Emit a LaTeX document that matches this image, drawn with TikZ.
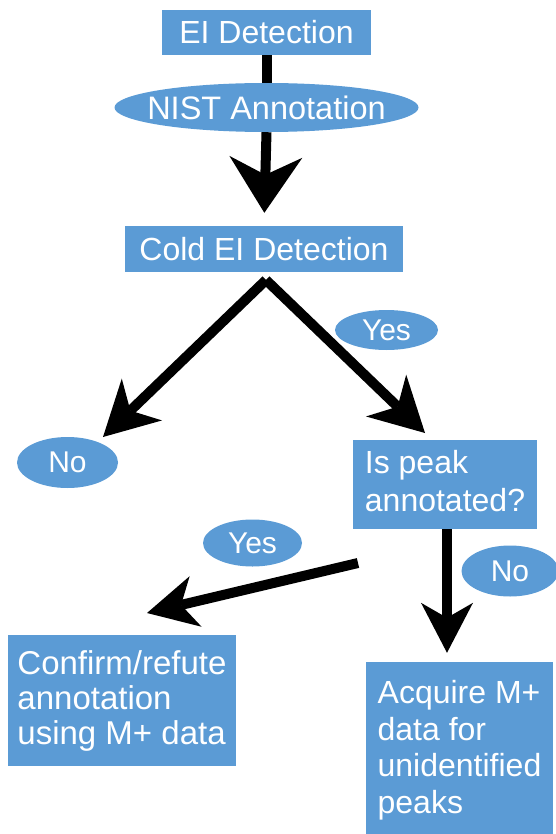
\documentclass[tikz,border=0pt]{standalone}
\usepackage{fontspec}
\setmainfont{Liberation Sans}
\usetikzlibrary{arrows.meta,shapes.geometric}
\definecolor{boxblue}{HTML}{5B9BD5}
\tikzset{
  box/.style={fill=boxblue, draw=none, text=white, inner sep=0pt, align=left,
    font=\fontsize{32}{37}\selectfont},
  oval/.style={ellipse, fill=boxblue, draw=none, text=white, inner sep=0pt,
    font=\fontsize{30}{34}\selectfont},
  shaft/.style={line width=10pt, black},
  bigtip/.style={shaft, -{Stealth[length=56pt,width=73pt,inset=18pt,line width=0pt]}},
  midtip/.style={shaft, -{Stealth[length=54pt,width=58pt,inset=16pt,line width=0pt]}},
  smalltip/.style={shaft, -{Stealth[length=50pt,width=52pt,inset=15pt,line width=0pt]}},
}
\begin{document}
\begin{tikzpicture}[x=1pt,y=-1pt]
\useasboundingbox (0,0) rectangle (556,834);

% nodes
\node[box, minimum width=209pt, minimum height=45pt] (ei) at (266.5,32.5) {EI Detection};
\node[oval, minimum width=304pt, minimum height=49pt, inner xsep=-12pt, inner ysep=-6pt, font=\fontsize{32.5}{36}\selectfont] (nist) at (266.5,107.5) {NIST Annotation};
\node[box, minimum width=278pt, minimum height=46pt] (cold) at (264,249) {Cold EI Detection};
\node[oval, minimum width=103pt, minimum height=40pt] (yesa) at (386.5,330) {Yes};
\node[oval, minimum width=101pt, minimum height=51pt] (noa) at (67.5,462.5) {No};
\node[box, minimum width=184pt, minimum height=89pt, font=\fontsize{32}{38}\selectfont, text depth=6.6pt] (ispeak) at (445,484.5) {Is peak\\annotated?};
\node[oval, minimum width=99pt, minimum height=47pt] (yesb) at (252.5,543) {Yes};
\node[oval, minimum width=97pt, minimum height=51pt] (nob) at (510,571) {No};
\node[box, minimum width=228pt, minimum height=131pt, font=\fontsize{33}{35}\selectfont] (confirm) at (122,700.5) {Confirm/refute\\annotation\\using M+ data};
\node[box, minimum width=187pt, minimum height=176pt, font=\fontsize{32}{36.5}\selectfont] (acquire) at (459.5,750) {Acquire M+\\data for\\unidentified\\peaks};

% free ends of connectors
\coordinate (apex) at (266,280);
\coordinate (tipno) at (103,437);
\coordinate (tipis) at (425,433);
\coordinate (ystart) at (358,563);
\coordinate (tipconf) at (147,613);

% connectors
\draw[shaft] (ei.south) -- (nist.north);
\draw[bigtip, shorten >=13pt] (nist.south) -- (cold.north);
\draw[midtip] (apex) -- (tipno);
\draw[midtip] (apex) -- (tipis);
\draw[smalltip] (ystart) -- (tipconf);
\draw[smalltip, shorten >=9pt] ([xshift=2pt]ispeak.south) -- ([xshift=-12.5pt]acquire.north);
\end{tikzpicture}
\end{document}
